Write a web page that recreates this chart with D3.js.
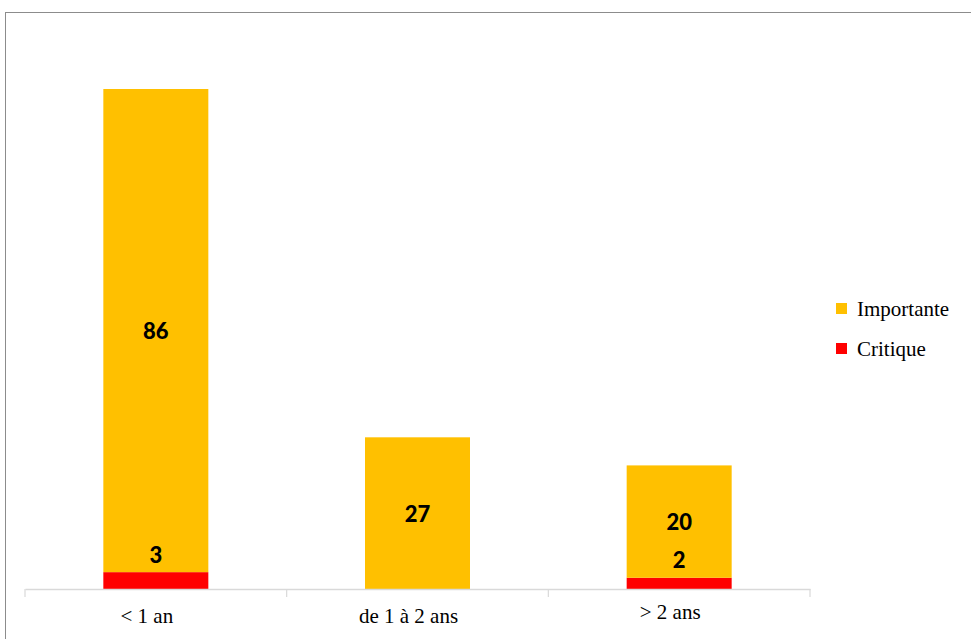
<!DOCTYPE html>
<html>
<head>
<meta charset="utf-8">
<script src="https://cdn.jsdelivr.net/npm/d3@7"></script>
<style>
  body { margin: 0; background: #fff; }
  svg { display: block; }
</style>
</head>
<body>
<div id="chart"></div>
<script>
const WIDTH = 971, HEIGHT = 639;
const categories = ["< 1 an", "de 1 à 2 ans", "> 2 ans"];
const critique = [3, 0, 2];
const importante = [86, 27, 20];
const seriesNames = ["Importante", "Critique"];
const seriesColors = { Critique: "#FF0000", Importante: "#FFC000" };

const PLOT_LEFT = 25, PLOT_RIGHT = 810, BASE_Y = 589, TOP_Y = 27.2;

const svg = d3.select("#chart").append("svg")
    .attr("width", WIDTH)
    .attr("height", HEIGHT);

// outer frame
svg.append("rect")
    .attr("x", 5.5).attr("y", 12.5)
    .attr("width", 1000).attr("height", 700)
    .attr("fill", "none")
    .attr("stroke", "#8c8c8c")
    .attr("stroke-width", 1);

const xb = d3.scaleBand().domain(categories).range([PLOT_LEFT, PLOT_RIGHT]);
const y = d3.scaleLinear().domain([0, 100]).range([BASE_Y, TOP_Y]);

const rows = categories.map((c, i) => ({ cat: c, Critique: critique[i], Importante: importante[i] }));
const stack = d3.stack().keys(["Critique", "Importante"])(rows);

const bw = 105;
stack.forEach(layer => {
    svg.append("g").selectAll("rect")
        .data(layer.filter(d => d[1] - d[0] > 0))
        .join("rect")
        .attr("x", d => xb(d.data.cat) + xb.bandwidth() / 2 - bw / 2)
        .attr("y", d => y(d[1]))
        .attr("width", bw)
        .attr("height", d => y(d[0]) - y(d[1]))
        .attr("fill", seriesColors[layer.key]);
});

// value labels
stack.forEach(layer => {
    svg.append("g").selectAll("text")
        .data(layer.filter(d => d[1] - d[0] > 0))
        .join("text")
        .attr("x", d => xb(d.data.cat) + xb.bandwidth() / 2)
        .attr("y", d => layer.key === "Importante"
            ? (y(d[0]) + y(d[1])) / 2
            : y(d[1]) - 18)
        .attr("text-anchor", "middle")
        .attr("dominant-baseline", "central")
        .style("font-family", "Lato, sans-serif")
        .style("font-weight", "900")
        .style("font-size", "22px")
        .attr("fill", "#000")
        .text(d => d[1] - d[0]);
});

// x axis
const axis = svg.append("g")
    .attr("transform", `translate(0,${BASE_Y})`)
    .call(d3.axisBottom(xb).tickSize(0).tickFormat(""));
axis.select(".domain").attr("stroke", "#d9d9d9").attr("stroke-width", 1.5);
axis.selectAll(".tick").remove();
const tickXs = categories.map(c => xb(c)).concat([PLOT_RIGHT]);
axis.selectAll("line.sep")
    .data(tickXs)
    .join("line")
    .attr("class", "sep")
    .attr("x1", d => d).attr("x2", d => d)
    .attr("y1", 0).attr("y2", 8)
    .attr("stroke", "#d9d9d9").attr("stroke-width", 1.2);
axis.selectAll("text.cat")
    .data(categories)
    .join("text")
    .attr("class", "cat")
    .attr("x", d => xb(d) + xb.bandwidth() / 2 - 9)
    .attr("y", (d, i) => i === 2 ? 30 : 34)
    .attr("text-anchor", "middle")
    .style("font-family", "'Liberation Serif', serif")
    .style("font-size", "21px")
    .attr("fill", "#000")
    .text(d => d);

// legend
const legend = svg.append("g").attr("transform", "translate(836,303)");
seriesNames.forEach((s, i) => {
    const g = legend.append("g").attr("transform", `translate(0,${i * 40})`);
    g.append("rect").attr("width", 11).attr("height", 11).attr("fill", seriesColors[s]);
    g.append("text")
        .attr("x", 21).attr("y", 6)
        .attr("dominant-baseline", "central")
        .style("font-family", "'Liberation Serif', serif")
        .style("font-size", "21px")
        .attr("fill", "#000")
        .text(s);
});
</script>
</body>
</html>
